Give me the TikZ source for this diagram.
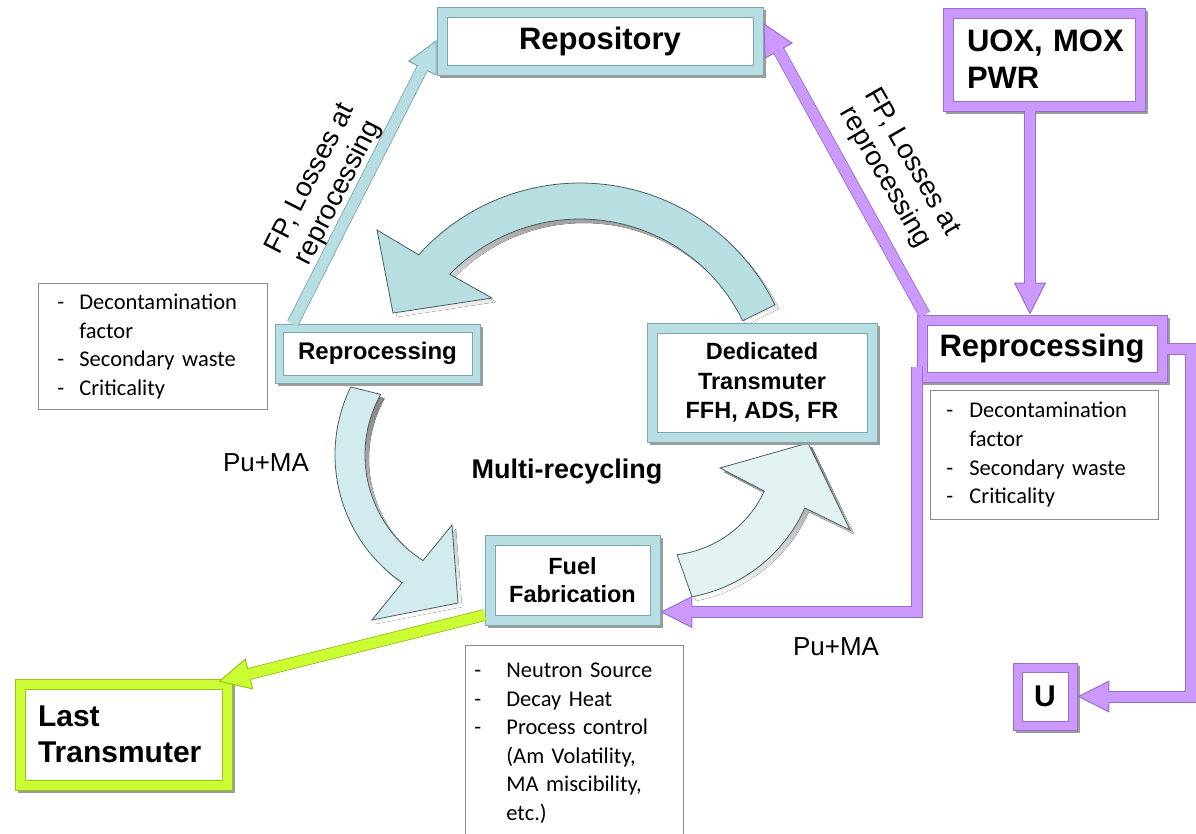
\documentclass[tikz,border=0pt]{standalone}
\usepackage{fontspec}
\setmainfont{Liberation Sans}
\newfontfamily\notefont{Carlito}
\usetikzlibrary{arrows.meta,shadows}

\definecolor{tealFill}{HTML}{B7DEE2}
\definecolor{tealEdge}{HTML}{7FA8AD}
\definecolor{purpFill}{HTML}{CC99FF}
\definecolor{purpEdge}{HTML}{9A6FCB}
\definecolor{limeFill}{HTML}{CCFF33}
\definecolor{limeEdge}{HTML}{99C21A}
\definecolor{arcEdge}{HTML}{4A5E60}
\definecolor{arcA}{HTML}{B7DFE2}
\definecolor{arcB}{HTML}{D1EBEE}
\definecolor{arcC}{HTML}{E3F3F4}
\definecolor{shade}{HTML}{9C9C9C}
\definecolor{noteEdge}{HTML}{8C8C8C}

% framed box: coloured band with a white inner panel and a drop shadow
\tikzset{
  panel/.style n args={3}{rectangle, inner sep=0pt, fill=#1, draw=#2, line width=0.8pt,
    drop shadow={shadow xshift=3pt, shadow yshift=-3pt, fill=shade, opacity=1},
    path picture={\draw[line width=0.8pt, draw=#2, fill=white]
      ([shift={(#3,#3)}]path picture bounding box.south west) rectangle
      ([shift={(-#3,-#3)}]path picture bounding box.north east);}},
  tealpanel/.style={panel={tealFill}{tealEdge}{#1}},
  purppanel/.style={panel={purpFill}{purpEdge}{#1}},
  limepanel/.style={panel={limeFill}{limeEdge}{#1}},
  note/.style={rectangle, draw=noteEdge, line width=0.8pt, fill=white, align=left,
    font=\notefont\fontsize{22.5}{28.6}\selectfont},
  bigbold/.style={font=\fontsize{31}{37}\selectfont\bfseries},
  midbold/.style={font=\fontsize{23.5}{29.5}\selectfont\bfseries, align=center},
  plainlabel/.style={font=\fontsize{26}{30}\selectfont},
  losslabel/.style={font=\fontsize{27.5}{31}\selectfont, align=center},
}

% list lines inside the note boxes
\newcommand\itm[2]{\strut\makebox[#1][l]{-}\mbox{#2}}
\newcommand\cnt[2]{\strut\hspace*{#1}\mbox{#2}}

% thick outlined arrow: fill colour, edge colour, path
\newcommand\fatarrow[3]{%
  \draw[line width=12pt, #2, shorten >=20pt] #3;
  \draw[line width=10pt, #1, -{Triangle[length=32pt, width=32pt, fill=#1, color=#2, line width=1pt]}] #3;
  \draw[line width=10pt, #1, shorten >=27pt] #3;
}

% curved block arrows of the recycling loop
\def\arcTop{(775,-304.9) arc[start angle=26, end angle=138, radius=217pt]
  -- (377,-230) -- (393,-313) -- (492,-298) -- (449.8,-274.3)
  arc[start angle=136, end angle=26, radius=181pt] -- cycle}
\def\arcLeft{(350.7,-387.0) arc[start angle=154, end angle=235.5, radius=155pt]
  -- (372,-620) -- (458,-603) -- (452,-525) -- (423.0,-560.5)
  arc[start angle=237.6, end angle=151, radius=125pt] -- cycle}
\def\arcRight{(692.0,-596.8) arc[start angle=-79.4, end angle=-24.2, radius=155pt]
  -- (850,-530) -- (808,-443) -- (720,-468) -- (764.3,-491.1)
  arc[start angle=-24.8, end angle=-83, radius=111pt] -- cycle}

\begin{document}
\begin{tikzpicture}[x=1pt,y=1pt]
\useasboundingbox (0,0) rectangle (1196,-833);
\fill[white] (0,0) rectangle (1196,-833);

% recycling loop arrows
\fill[shade, xshift=4pt, yshift=-4pt] \arcTop;
\filldraw[fill=arcA, draw=arcEdge, line width=0.8pt] \arcTop;
\fill[shade, xshift=4pt, yshift=-4pt] \arcLeft;
\filldraw[fill=arcB, draw=arcEdge, line width=0.8pt] \arcLeft;
\fill[shade, xshift=4pt, yshift=-4pt] \arcRight;
\filldraw[fill=arcC, draw=arcEdge, line width=0.8pt] \arcRight;

% boxes
\node[tealpanel=10pt, minimum width=326pt, minimum height=68pt, bigbold] (repo) at (600,-41) {Repository};
\node[purppanel=10pt, minimum width=202pt, minimum height=103pt, inner xsep=16pt, text width=170pt,
      align=left, bigbold] (uox) at (1044,-59.5) {\hspace*{8pt}UOX, MOX\\\hspace*{8pt}PWR};
\node[tealpanel=8pt, minimum width=205pt, minimum height=59pt, font=\fontsize{24}{29}\selectfont\bfseries]
      (lproc) at (377.5,-353.5) {Reprocessing};
\node[tealpanel=10pt, minimum width=230pt, minimum height=119pt, midbold] (ded) at (762,-382.5)
      {Dedicated\\Transmuter\\FFH, ADS, FR};
\node[tealpanel=10pt, minimum width=175pt, minimum height=90pt, midbold,
      font=\fontsize{23.5}{28}\selectfont\bfseries] (fuel) at (572.5,-580) {Fuel\\Fabrication};
\node[limepanel=10pt, minimum width=217pt, minimum height=111pt, inner xsep=23pt, text width=171pt,
      align=left, font=\fontsize{30}{36}\selectfont\bfseries] (last) at (123.5,-734.5) {Last\\Transmuter};
\node[purppanel=10pt, minimum width=250pt, minimum height=67pt, bigbold] (rproc) at (1042,-348.5) {Reprocessing};
\node[purppanel=9pt, minimum width=64pt, minimum height=67pt, font=\fontsize{30}{36}\selectfont\bfseries]
      (u) at (1045,-696.5) {U};

% notes
\node[note, anchor=north west, text width=191pt, inner xsep=19pt, inner ysep=6pt] (lnote) at (38,-283)
  {\itm{22pt}{Decontamination}\\\cnt{22pt}{factor}\\\itm{22pt}{Secondary waste}\\\itm{22pt}{Criticality}};
\node[note, anchor=north west, text width=196pt, inner xsep=16pt, inner ysep=7.5pt] (rnote) at (930,-390)
  {\itm{23pt}{Decontamination}\\\cnt{23pt}{factor}\\\itm{23pt}{Secondary waste}\\\itm{23pt}{Criticality}};
\node[note, anchor=north west, text width=200pt, inner xsep=9pt, inner ysep=12pt] (fnote) at (465,-645)
  {\itm{32pt}{Neutron Source}\\\itm{32pt}{Decay Heat}\\\itm{32pt}{Process control}\\
   \cnt{32pt}{(Am Volatility,}\\\cnt{32pt}{MA miscibility,}\\\cnt{32pt}{etc.)}};

% connectors
\fatarrow{tealFill}{tealEdge}{([xshift=18pt]lproc.north west) -- ([yshift=1pt]repo.west)}
\fatarrow{purpFill}{purpEdge}{([xshift=8pt]rproc.north west) -- ([yshift=18pt]repo.east)}
\fatarrow{purpFill}{purpEdge}{([xshift=-14pt]uox.south) -- ([xshift=-12pt]rproc.north)}
\fatarrow{purpFill}{purpEdge}{([yshift=-18.5pt]rproc.west) |- ([yshift=-32pt]fuel.east)}
\fatarrow{purpFill}{purpEdge}{(rproc.east) -- ++(24pt,0) |- (u.east)}
\fatarrow{limeFill}{limeEdge}{([yshift=-35pt]fuel.west) -- ([xshift=-14pt,yshift=-3pt]last.north east)}

% labels
\node[losslabel, rotate=63] (lossL) at (325,-186) {FP, Losses at\\reprocessing};
\node[losslabel, rotate=-60] (lossR) at (898,-170) {FP, Losses at\\reprocessing};
\node[plainlabel] (puL) at (266,-463) {Pu+MA};
\node[font=\fontsize{27}{32}\selectfont\bfseries] (multi) at (567,-472) {Multi-recycling};
\node[plainlabel] (puR) at (836,-647) {Pu+MA};
\end{tikzpicture}
\end{document}
